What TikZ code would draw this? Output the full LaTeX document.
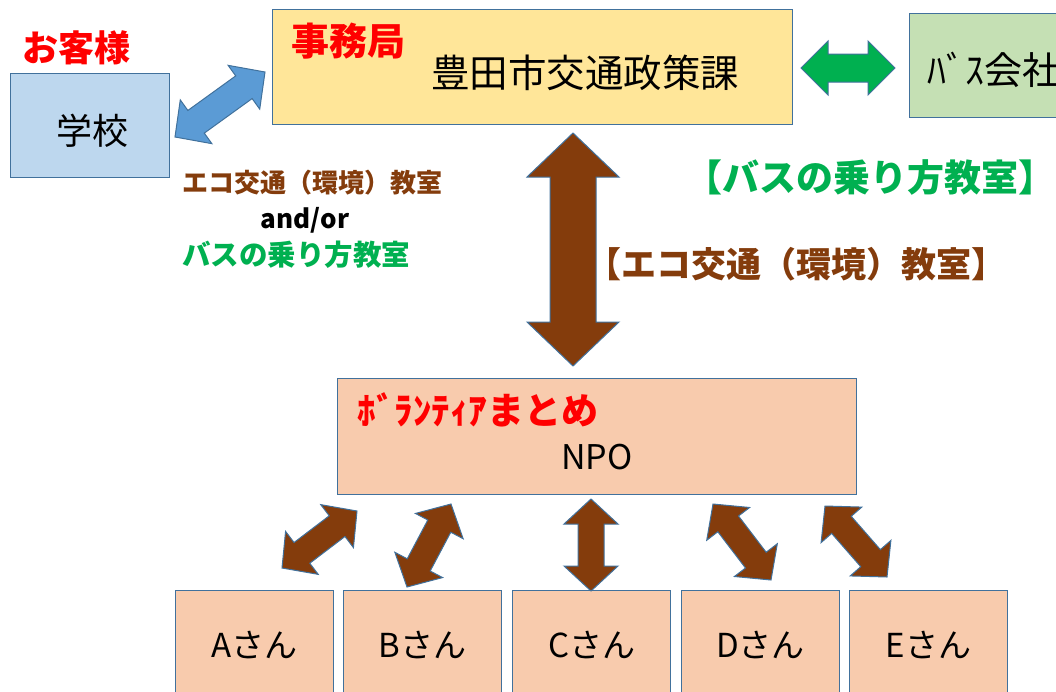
\documentclass[tikz,border=0pt]{standalone}
\usepackage{fontspec}
\setmainfont{Noto Sans CJK JP}
\usetikzlibrary{positioning,calc}

\definecolor{boxline}{HTML}{41719C}
\definecolor{schoolblue}{HTML}{BDD7EE}
\definecolor{officeyellow}{HTML}{FFE699}
\definecolor{busgreen}{HTML}{C5E0B4}
\definecolor{npopeach}{HTML}{F8CBAD}
\definecolor{arrowblue}{HTML}{5B9BD5}
\definecolor{arrowgreen}{HTML}{00B050}
\definecolor{ecobrown}{HTML}{843C0C}
\definecolor{titlered}{HTML}{FF0000}

% fat two-headed arrow: style, from, to, head length, head half width, shaft half width
\newcommand{\fatarrow}[6]{%
  \draw[#1] (#2)
    -- ($(#2)!#4!(#3)!#5!90:(#3)$)
    -- ($(#2)!#4!(#3)!#6!90:(#3)$)
    -- ($(#3)!#4!(#2)!#6!-90:(#2)$)
    -- ($(#3)!#4!(#2)!#5!-90:(#2)$)
    -- (#3)
    -- ($(#3)!#4!(#2)!#5!90:(#2)$)
    -- ($(#3)!#4!(#2)!#6!90:(#2)$)
    -- ($(#2)!#4!(#3)!#6!-90:(#3)$)
    -- ($(#2)!#4!(#3)!#5!-90:(#3)$)
    -- cycle;
}

\begin{document}
\begin{tikzpicture}[x=1pt, y=-1pt,
    box/.style = {draw=boxline, line width=1.2pt, inner sep=0pt, anchor=north west},
    fat/.style = {draw=boxline, line width=1pt, line join=miter},
    redtitle/.style = {text=titlered, font=\fontsize{#1}{#1}\selectfont\bfseries},
    plain/.style = {font=\fontsize{#1}{#1}\selectfont}]
    \useasboundingbox (0,0) rectangle (1056,691);

    % boxes
    \node[box, fill=schoolblue, minimum width=159pt, minimum height=104pt] (school) at (10,73) {};
    \node[box, fill=officeyellow, minimum width=520pt, minimum height=115pt] (office) at (272,9) {};
    \node[box, fill=busgreen, minimum width=200pt, minimum height=104pt] (bus) at (909,13) {};
    \node[box, fill=npopeach, minimum width=519pt, minimum height=116pt] (npo) at (337,378) {};
    \foreach \n/\x in {A/175,B/343,C/512,D/681,E/849}
        \node[box, fill=npopeach, minimum width=158pt, minimum height=130pt] (p\n) at (\x,590) {};

    % texts
    \node[redtitle=36] (guest) at (76,48) {お客様};
    \node[plain=36] at (92,131) {学校};
    \node[redtitle=38] (jimu) at (348,41) {事務局};
    \node[plain=38.5] at (585,73) {豊田市交通政策課};
    \node[plain=38, anchor=west] at (924,70) {ﾊﾞｽ会社};
    \node[redtitle=37] (volunteer) at (478,410) {ﾎﾞﾗﾝﾃｨｱまとめ};
    \node[plain=34] at (597,457) {NPO};
    \foreach \n in {A,B,C,D,E}
        \node[plain=33] at ($(p\n.north)+(0,55)$) {\n{}さん};

    \node[text=ecobrown, font=\fontsize{26}{30}\selectfont\bfseries] (ecosmall) at (312,183) {エコ交通（環境）教室};
    \node[font=\fontsize{26}{28}\selectfont\bfseries] (andor) at (305,220) {and/or};
    \node[text=arrowgreen, font=\fontsize{28.5}{30}\selectfont\bfseries] (bussmall) at (296,255) {バスの乗り方教室};
    \node[text=arrowgreen, font=\fontsize{37}{40}\selectfont\bfseries] (buslesson) at (870,177) {【バスの乗り方教室】};
    \node[text=ecobrown, font=\fontsize{35}{40}\selectfont\bfseries] (ecolesson) at (796,264) {【エコ交通（環境）教室】};

    % arrows
    \coordinate (school-end) at (175,137);
    \coordinate (office-left) at (265,72);
    \coordinate (office-right) at (801,68);
    \coordinate (bus-left) at (895,68);
    \coordinate (office-low) at (573,133);
    \coordinate (npo-up) at (573,366);
    \fatarrow{fat, fill=arrowblue}{school-end}{office-left}{26pt}{27pt}{14pt}
    \fatarrow{fat, fill=arrowgreen}{office-right}{bus-left}{27pt}{27pt}{14pt}
    \fatarrow{fat, fill=ecobrown}{office-low}{npo-up}{44pt}{46pt}{23pt}
    \foreach \n/\ax/\ay/\bx/\by in {A/282/568/357/511, B/407/587/451/504, C/591/591/591/499, D/771/580/713/504, E/887/577/825/506}{
        \coordinate (\n-low) at (\ax,\ay);
        \coordinate (\n-up) at (\bx,\by);
        \fatarrow{fat, fill=ecobrown}{\n-low}{\n-up}{25pt}{27pt}{13pt}
    }
\end{tikzpicture}
\end{document}
